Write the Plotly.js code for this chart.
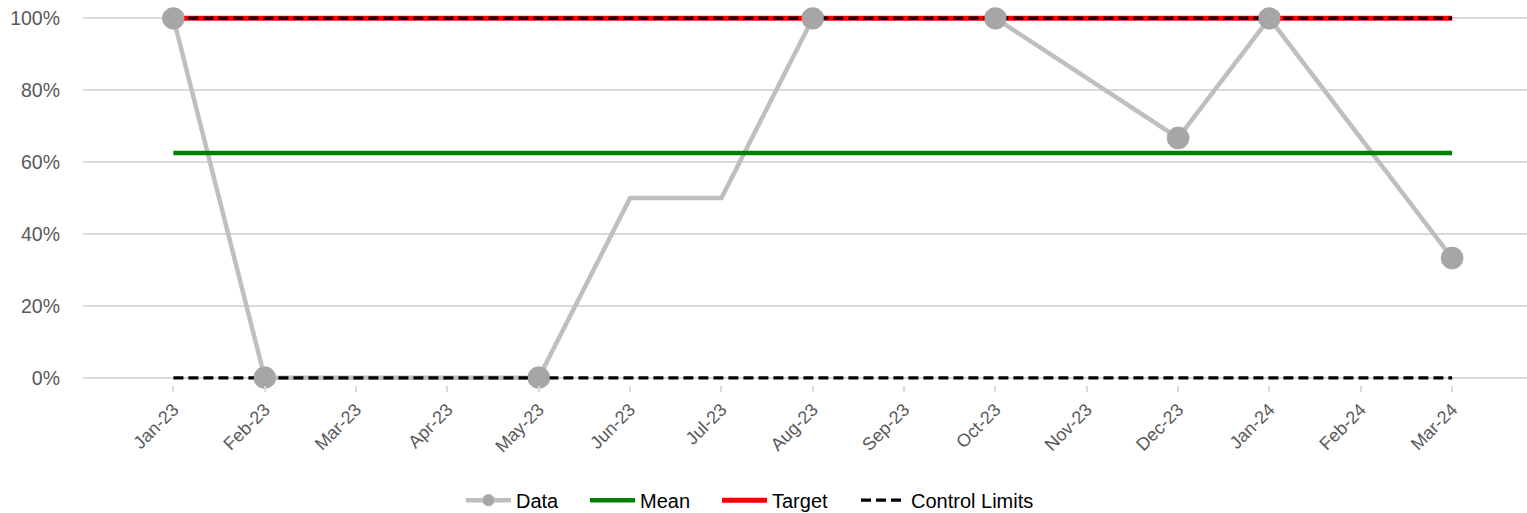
<!DOCTYPE html>
<html>
<head>
<meta charset="utf-8">
<script src="https://cdn.plot.ly/plotly-3.0.1.min.js"></script>
<style>html,body{margin:0;padding:0;background:#fff;}#chart{width:1527px;height:513px;}</style>
</head>
<body>
<div id="chart"></div>
<script>
const months = ["Jan-23","Feb-23","Mar-23","Apr-23","May-23","Jun-23","Jul-23","Aug-23","Sep-23","Oct-23","Nov-23","Dec-23","Jan-24","Feb-24","Mar-24"];
// null = no data for that month (line connects across the gap)
const dataValues = [1.0, 0.0, null, null, 0.0, 0.5, 0.5, 1.0, null, 1.0, null, 0.667, 1.0, null, 0.333];
const markedPoints = [true, true, false, false, true, false, false, true, false, true, false, true, true, false, true];
const meanValue = 0.625;
const targetValue = 1.0;
const upperLimit = 1.0;
const lowerLimit = 0.0;

const flat = v => months.map(() => v);
const markedY = dataValues.map((v, i) => markedPoints[i] ? v : null);

const traces = [
  {name:"Data", x:months, y:dataValues, type:"scatter", mode:"lines+markers", connectgaps:true,
   line:{color:"#bfbfbf", width:4.5},
   marker:{color:"#a6a6a6", size:markedPoints.map(m => m ? 22 : 0), opacity:1},
   legend:"legend", hoverinfo:"skip"},
  {name:"Mean", x:months, y:flat(meanValue), type:"scatter", mode:"lines",
   line:{color:"#008000", width:4.5}, legend:"legend2", hoverinfo:"skip"},
  {name:"Target", x:months, y:flat(targetValue), type:"scatter", mode:"lines",
   line:{color:"#ff0000", width:5}, legend:"legend3", hoverinfo:"skip"},
  {name:"Control Limits", x:months, y:flat(upperLimit), type:"scatter", mode:"lines",
   line:{color:"#000000", width:3.2, dash:"10px,5px"}, legendgroup:"cl", legend:"legend4", hoverinfo:"skip"},
  {name:"Control Limits", x:months, y:flat(lowerLimit), type:"scatter", mode:"lines",
   line:{color:"#000000", width:3.2, dash:"10px,5px"}, legendgroup:"cl", legend:"legend4", showlegend:false, hoverinfo:"skip"},
  {name:"Data", x:months, y:markedY, type:"scatter", mode:"markers",
   marker:{color:"#a6a6a6", size:22, opacity:1},
   showlegend:false, cliponaxis:false, hoverinfo:"skip"}
];

const legBase = {xref:"container", yref:"container", y:0.025, yanchor:"middle", xanchor:"left",
                 font:{size:20, color:"#000"}, itemwidth:45, bgcolor:"rgba(0,0,0,0)"};
const startPx = [461, 585, 717, 856];

const layout = {
  width:1527, height:513,
  margin:{l:83, r:0, t:10.8, b:127.8, autoexpand:false},
  paper_bgcolor:"#fff", plot_bgcolor:"#fff",
  font:{family:"Liberation Sans, Arial, sans-serif", color:"#595959"},
  showlegend:true,
  legend: Object.assign({}, legBase, {x:startPx[0]/1527}),
  legend2: Object.assign({}, legBase, {x:startPx[1]/1527}),
  legend3: Object.assign({}, legBase, {x:startPx[2]/1527}),
  legend4: Object.assign({}, legBase, {x:startPx[3]/1527}),
  xaxis:{type:"category", range:[-0.99, 14.82], showgrid:false, zeroline:false,
         showline:false, ticks:"outside", ticklen:6, tickwidth:2, tickcolor:"#d9d9d9",
         tickangle:-45, tickfont:{size:18, color:"#595959"}, automargin:false},
  yaxis:{range:[-0.02,1.02], tickformat:".0%", tickvals:[0,0.2,0.4,0.6,0.8,1.0], showgrid:true, gridcolor:"#d9d9d9", gridwidth:2,
         zeroline:true, zerolinecolor:"#d9d9d9", zerolinewidth:2, showline:false,
         ticks:"", tickfont:{size:19.5, color:"#595959"}, ticklabelstandoff:22, automargin:false}
};

Plotly.newPlot("chart", traces, layout, {staticPlot:true});
</script>
</body>
</html>
